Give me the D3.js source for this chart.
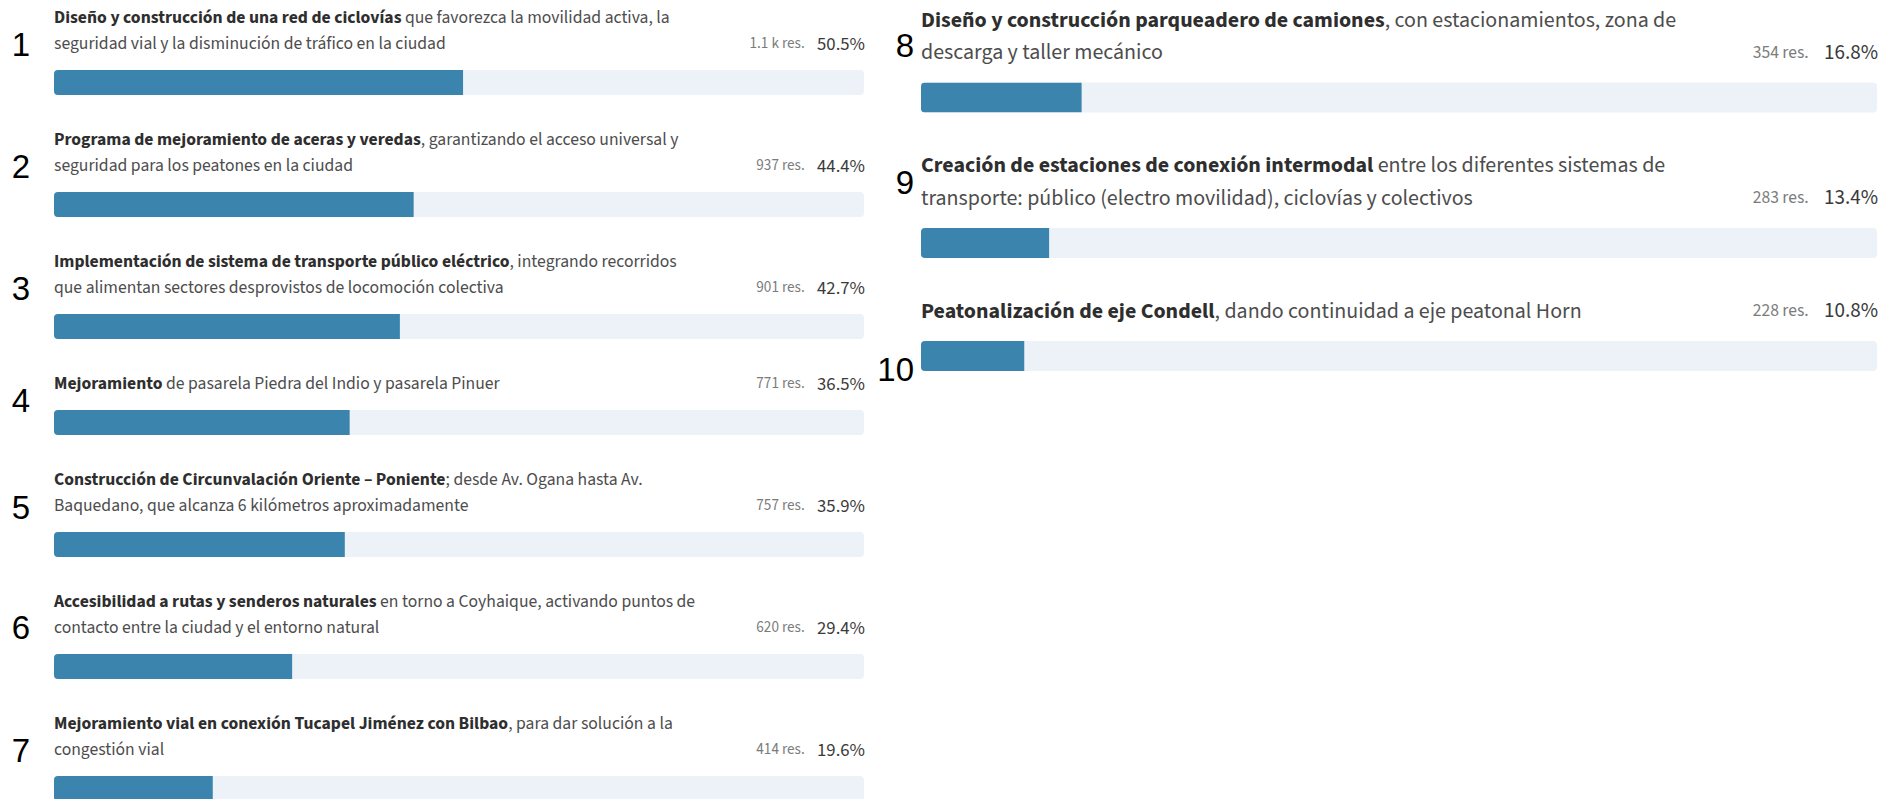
<!DOCTYPE html>
<html>
<head>
<meta charset="utf-8">
<script src="https://cdn.jsdelivr.net/npm/d3@7"></script>
<style>
  html, body { margin: 0; padding: 0; background: #ffffff; }
  svg { display: block; }
</style>
</head>
<body>
<svg id="chart" width="1884" height="799"></svg>
<script>
// ---------------- DATA ----------------
const itemNumbers = ["1", "2", "3", "4", "5", "6", "7", "8", "9", "10"];
const boldParts = [
  "Diseño y construcción de una red de ciclovías",
  "Programa de mejoramiento de aceras y veredas",
  "Implementación de sistema de transporte público eléctrico",
  "Mejoramiento",
  "Construcción de Circunvalación Oriente – Poniente",
  "Accesibilidad a rutas y senderos naturales",
  "Mejoramiento vial en conexión Tucapel Jiménez con Bilbao",
  "Diseño y construcción parqueadero de camiones",
  "Creación de estaciones de conexión intermodal",
  "Peatonalización de eje Condell"
];
const restLines = [
  [" que favorezca la movilidad activa, la", "seguridad vial y la disminución de tráfico en la ciudad"],
  [", garantizando el acceso universal y", "seguridad para los peatones en la ciudad"],
  [", integrando recorridos", "que alimentan sectores desprovistos de locomoción colectiva"],
  [" de pasarela Piedra del Indio y pasarela Pinuer"],
  ["; desde Av. Ogana hasta Av.", "Baquedano, que alcanza 6 kilómetros aproximadamente"],
  [" en torno a Coyhaique, activando puntos de", "contacto entre la ciudad y el entorno natural"],
  [", para dar solución a la", "congestión vial"],
  [", con estacionamientos, zona de", "descarga y taller mecánico"],
  [" entre los diferentes sistemas de", "transporte: público (electro movilidad), ciclovías y colectivos"],
  [", dando continuidad a eje peatonal Horn"]
];
const responseLabels = ["1.1 k res.", "937 res.", "901 res.", "771 res.", "757 res.", "620 res.", "414 res.", "354 res.", "283 res.", "228 res."];
const percents = [50.5, 44.4, 42.7, 36.5, 35.9, 29.4, 19.6, 16.8, 13.4, 10.8];
const columnOf = [0, 0, 0, 0, 0, 0, 0, 1, 1, 1];

// ---------------- LAYOUT / STYLE ----------------
const FONT = "'Source Sans Pro', 'Source Sans 3', Lato, 'Noto Sans', sans-serif";
const columns = [
  { x0: 54, x1: 864, firstLine: 17, lineH: 26, lineToBar: 27, barH: 25, barToNext: 69,
    probe: "seguridad vial y la disminución de tráfico en la ciudad", probeW: 392,
    pctScale: 1.06, resScale: 0.86, numX: 21, numAnchor: "middle",
    numOffsets: [-26, -26, -26, -10, -25, -27, -26] },
  { x0: 921, x1: 1877, firstLine: 19, lineH: 32.5, lineToBar: 31, barH: 30, barToNext: 82,
    probe: "transporte: público (electro movilidad), ciclovías y colectivos", probeW: 552,
    pctScale: 0.96, resScale: 0.80, numX: 914, numAnchor: "end",
    numOffsets: [-37, -46, 28] }
];
const COLORS = { fill: "#3a84ad", track: "#ecf2f8", bold: "#2e2e2e", text: "#4d4d4d", res: "#7b7b7b", pct: "#3a3a3a", num: "#000000" };

const svg = d3.select("#chart");
const defs = svg.append("defs");

// calibrate font size per column from a probe line's target width
function measure(str, size, weight) {
  const t = svg.append("text").attr("font-family", FONT).attr("font-size", size)
    .attr("font-weight", weight || 400).text(str);
  const w = t.node().getComputedTextLength();
  t.remove();
  return w;
}
columns.forEach(c => { c.font = 16 * c.probeW / measure(c.probe, 16); });

// build item records
const items = itemNumbers.map((n, i) => ({
  num: n, bold: boldParts[i], rest: restLines[i], res: responseLabels[i], pct: percents[i], col: columnOf[i]
}));

columns.forEach((c, ci) => {
  const colItems = items.filter(d => d.col === ci);
  const x = d3.scaleLinear().domain([0, 100]).range([c.x0, c.x1]);
  let lineY = c.firstLine;
  colItems.forEach((d, k) => {
    d.lineYs = d.rest.map((_, j) => lineY + j * c.lineH);
    d.barTop = d.lineYs[d.lineYs.length - 1] + c.lineToBar;
    d.numY = d.barTop + c.numOffsets[k];
    lineY = d.barTop + c.barToNext;
  });

  const g = svg.append("g").attr("class", "col" + ci);
  const rows = g.selectAll("g.item").data(colItems).join("g").attr("class", "item");

  rows.each(function(d, k) {
    const row = d3.select(this);
    // title lines (bold lead + regular continuation)
    d.rest.forEach((line, j) => {
      const t = row.append("text")
        .attr("x", x(0)).attr("y", d.lineYs[j]).attr("dy", "0.35em")
        .attr("font-family", FONT).attr("font-size", c.font).attr("fill", COLORS.text);
      if (j === 0) {
        t.append("tspan").attr("font-weight", 700).attr("fill", COLORS.bold).text(d.bold);
      }
      t.append("tspan").attr("fill", COLORS.text).text(line);
    });

    // percent + response label on the last line
    const lastY = d.lineYs[d.lineYs.length - 1];
    const pct = row.append("text")
      .attr("x", x(100) + 1).attr("y", lastY).attr("dy", "0.35em")
      .attr("text-anchor", "end").attr("font-family", FONT)
      .attr("font-size", c.font * c.pctScale).attr("fill", COLORS.pct)
      .text(d3.format(".1f")(d.pct) + "%");
    const pw = pct.node().getComputedTextLength();
    row.append("text")
      .attr("x", x(100) + 1 - pw - c.font * 0.7).attr("y", lastY).attr("dy", "0.35em")
      .attr("text-anchor", "end").attr("font-family", FONT)
      .attr("font-size", c.font * c.resScale).attr("fill", COLORS.res)
      .text(d.res);

    // bar track + fill
    const clipId = "clip" + ci + "_" + k;
    defs.append("clipPath").attr("id", clipId).append("rect")
      .attr("x", x(0)).attr("y", d.barTop).attr("width", x(100) - x(0)).attr("height", c.barH)
      .attr("rx", 4).attr("ry", 4);
    row.append("rect")
      .attr("x", x(0)).attr("y", d.barTop).attr("width", x(100) - x(0)).attr("height", c.barH)
      .attr("rx", 4).attr("ry", 4).attr("fill", COLORS.track);
    row.append("rect")
      .attr("clip-path", "url(#" + clipId + ")")
      .attr("x", x(0)).attr("y", d.barTop).attr("width", x(d.pct) - x(0)).attr("height", c.barH)
      .attr("fill", COLORS.fill);

    // item number annotation
    row.append("text")
      .attr("x", c.numX).attr("y", d.numY).attr("dy", "0.36em")
      .attr("text-anchor", c.numAnchor)
      .attr("font-family", "'Liberation Sans', Arial, sans-serif")
      .attr("font-size", 33).attr("fill", COLORS.num)
      .text(d.num);
  });
});
</script>
</body>
</html>
